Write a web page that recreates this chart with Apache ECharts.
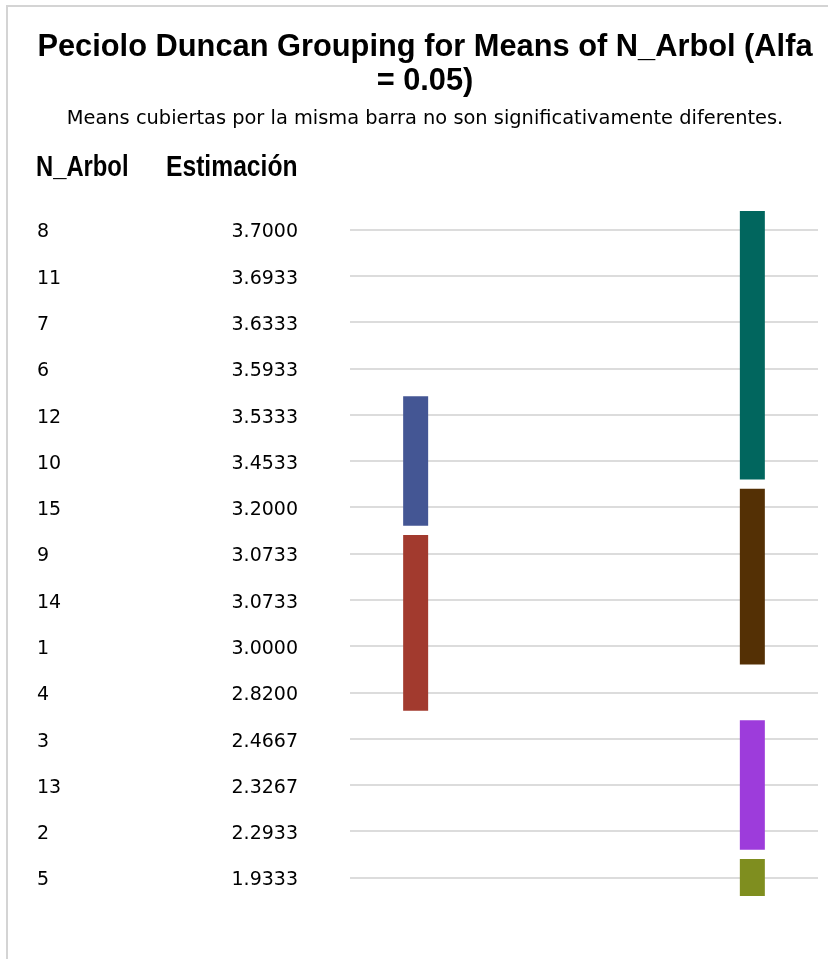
<!DOCTYPE html>
<html>
<head>
<meta charset="utf-8">
<title>Peciolo Duncan Grouping</title>
<script src="https://cdn.jsdelivr.net/npm/echarts@6/dist/echarts.min.js"></script>
<style>
  html, body { margin: 0; padding: 0; background: #fff; }
  #chart { width: 828px; height: 959px; }
</style>
</head>
<body>
<div id="chart"></div>
<script>
// Trees ordered by estimated mean (descending)
const arbol = ['8', '11', '7', '6', '12', '10', '15', '9', '14', '1', '4', '3', '13', '2', '5'];
const estimacion = [3.7000, 3.6933, 3.6333, 3.5933, 3.5333, 3.4533, 3.2000, 3.0733, 3.0733, 3.0000, 2.8200, 2.4667, 2.3267, 2.2933, 1.9333];

// Duncan groups: column of the bar, first and last tree covered
const groupColumn = [1, 1, 2, 2, 2, 2];
const groupFirst = ['12', '9', '8', '15', '3', '5'];
const groupLast = ['15', '4', '10', '1', '2', '5'];
const groupColors = ['#445694', '#A23A2E', '#01665E', '#543005', '#9D3CDB', '#7F8E1F'];

const groupData = groupColumn.map((col, i) => ({
  value: [col, arbol.indexOf(groupFirst[i]), arbol.indexOf(groupLast[i])],
  itemStyle: { color: groupColors[i] }
}));

const headerFont = {
  fontFamily: 'Liberation Sans, Arial, sans-serif',
  fontWeight: 'bold',
  fontSize: 29,
  fill: '#000',
  verticalAlign: 'middle'
};

const chart = echarts.init(document.getElementById('chart'), null, { renderer: 'canvas' });

chart.setOption({
  animation: false,
  backgroundColor: '#fff',
  title: {
    text: 'Peciolo Duncan Grouping for Means of N_Arbol (Alfa\n= 0.05)',
    subtext: 'Means cubiertas por la misma barra no son significativamente diferentes.',
    left: 420,
    top: 26,
    textAlign: 'center',
    itemGap: 10,
    textStyle: {
      fontFamily: 'Liberation Sans, Arial, sans-serif',
      fontWeight: 'bold',
      fontSize: 30.8,
      lineHeight: 34,
      color: '#000'
    },
    subtextStyle: {
      fontFamily: 'DejaVu Sans, sans-serif',
      fontSize: 19.4,
      color: '#000'
    }
  },
  graphic: [
    {
      type: 'rect',
      z: -10,
      silent: true,
      shape: { x: 7, y: 6, width: 900, height: 1000 },
      style: { fill: 'none', stroke: '#d4d4d4', lineWidth: 2 }
    },
    {
      type: 'text',
      x: 36,
      y: 168,
      scaleX: 0.82,
      style: Object.assign({ text: 'N_Arbol' }, headerFont)
    },
    {
      type: 'text',
      x: 166,
      y: 168,
      scaleX: 0.85,
      style: Object.assign({ text: 'Estimación' }, headerFont)
    }
  ],
  grid: {
    left: 350,
    right: 10,
    top: 229.5,
    bottom: 81.5,
    containLabel: false
  },
  xAxis: {
    type: 'value',
    min: 0.805,
    max: 2.195,
    show: false
  },
  yAxis: {
    type: 'category',
    inverse: true,
    boundaryGap: false,
    data: arbol,
    axisLine: { show: false },
    axisTick: { show: false },
    splitLine: { show: true, lineStyle: { color: '#dcdcdc', width: 2 } },
    axisLabel: {
      margin: 52,
      padding: [6, 0, 0, 0],
      formatter: (value, index) => '{a|' + value + '}{b|' + estimacion[index].toFixed(4) + '}',
      rich: {
        a: { width: 130, align: 'left', fontFamily: 'DejaVu Sans, sans-serif', fontSize: 19, color: '#000' },
        b: { width: 131, align: 'right', fontFamily: 'DejaVu Sans, sans-serif', fontSize: 19, color: '#000' }
      }
    }
  },
  series: [
    {
      type: 'custom',
      clip: false,
      data: groupData,
      encode: { x: 0, y: [1, 2] },
      renderItem: (params, api) => {
        const top = api.coord([api.value(0), api.value(1)]);
        const bottom = api.coord([api.value(0), api.value(2)]);
        const step = api.size([0, 1])[1];
        const barWidth = 25;
        return {
          type: 'rect',
          shape: {
            x: top[0] - barWidth / 2,
            y: top[1] - step * 0.4,
            width: barWidth,
            height: bottom[1] - top[1] + step * 0.8
          },
          style: { fill: api.visual('color') }
        };
      }
    }
  ]
});
</script>
</body>
</html>
